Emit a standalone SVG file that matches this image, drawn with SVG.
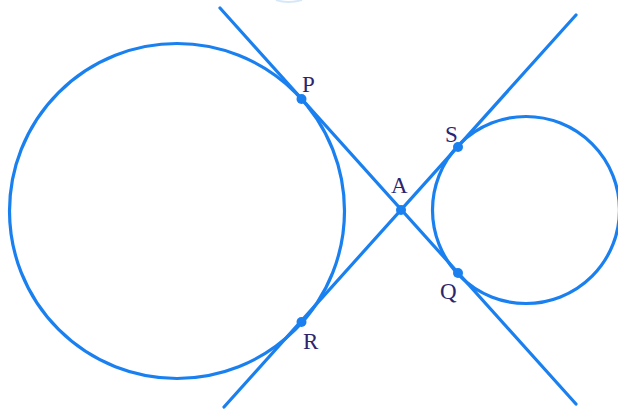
<svg xmlns="http://www.w3.org/2000/svg" width="618" height="410" viewBox="0 0 618 410">
<style>
.c{fill:none;stroke:#1a80f0;stroke-width:3.2}
.l{stroke:#1a80f0;stroke-width:3.2;stroke-linecap:round}
.d{fill:#1a80f0}
.t{font-family:"Liberation Serif",serif;font-size:23px;fill:#2d2470}
</style>
<rect width="618" height="410" fill="#fff"/>
<path d="M276 0 Q288 4 302 0" fill="none" stroke="#d6e8f8" stroke-width="2"/>
<g id="circle-big"><circle class="c" cx="177" cy="211" r="167.5"/></g>
<g id="circle-small"><circle class="c" cx="526" cy="210" r="93.5"/></g>
<g id="connectors">
<line class="l" x1="220" y1="8" x2="576" y2="404"/>
<line class="l" x1="224" y1="407" x2="576" y2="15"/>
</g>
<g id="P"><circle class="d" cx="301.5" cy="99" r="5"/><text class="t" x="302" y="92">P</text></g>
<g id="A"><circle class="d" cx="401" cy="210" r="5"/><text class="t" x="391" y="193">A</text></g>
<g id="S"><circle class="d" cx="458" cy="147" r="5"/><text class="t" x="445" y="142">S</text></g>
<g id="Q"><circle class="d" cx="458" cy="273" r="5"/><text class="t" x="440" y="299">Q</text></g>
<g id="R"><circle class="d" cx="301.5" cy="322" r="5"/><text class="t" x="303" y="349">R</text></g>
</svg>
